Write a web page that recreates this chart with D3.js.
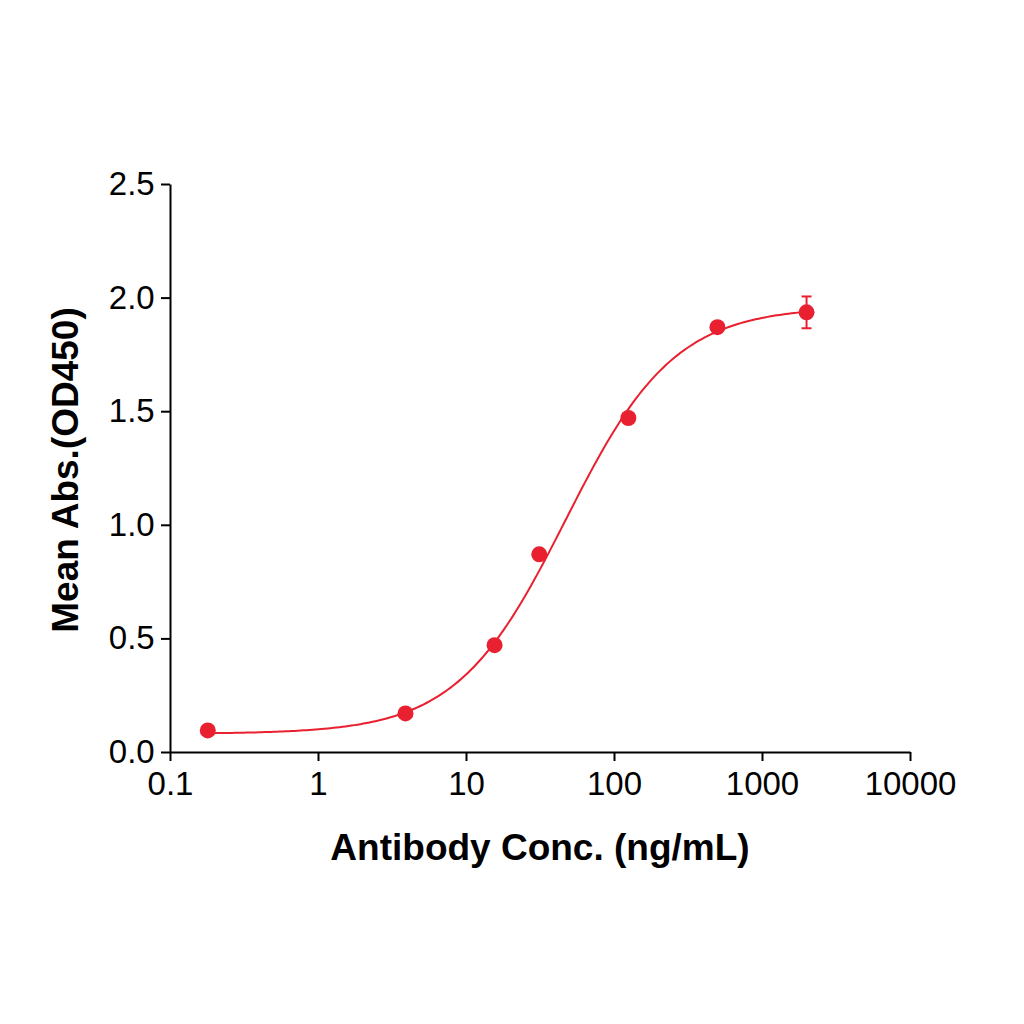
<!DOCTYPE html>
<html>
<head>
<script src="https://d3js.org/d3.v7.min.js"></script>
<style>body{margin:0;background:#fff}</style>
</head>
<body>
<svg id="chart" width="1024" height="1024"></svg>
<script>
var conc = [0.18, 3.9, 15.6, 31.25, 125, 500, 2000];
var absVals = [0.095, 0.17, 0.47, 0.87, 1.47, 1.87, 1.935];
var errVals = [0, 0, 0, 0, 0, 0, 0.07];
var xTicks = [0.1, 1, 10, 100, 1000, 10000];
var xTickLabels = ['0.1', '1', '10', '100', '1000', '10000'];
var yTicks = [0, 0.5, 1.0, 1.5, 2.0, 2.5];
// 4PL fit parameters: bottom, top, EC50, hill
var fit = {bottom: 0.08, top: 1.96, ec50: 47, hill: 1.18};

var red = '#e8202f';
var font = 'Liberation Sans, Arial, sans-serif';
var svg = d3.select('#chart');
var x = d3.scaleLog().domain([0.1, 10000]).range([170, 910]);
var y = d3.scaleLinear().domain([0, 2.5]).range([752, 184]);

svg.append('g').attr('transform', 'translate(0,752)')
    .call(d3.axisBottom(x).tickValues(xTicks).tickFormat((d, i) => xTickLabels[i]).tickSize(9).tickSizeOuter(0))
    .call(g => g.selectAll('text').attr('font-size', 33).attr('dy', '0.95em'));
svg.append('g').attr('transform', 'translate(170,0)')
    .call(d3.axisLeft(y).tickValues(yTicks).tickFormat(d3.format('.1f')).tickSize(9).tickSizeOuter(0))
    .call(g => g.selectAll('text').attr('font-size', 33).attr('dx', '-0.1em'));
svg.selectAll('.domain, .tick line').attr('stroke', '#000').attr('stroke-width', 2);
svg.selectAll('.tick text').attr('font-family', font).attr('fill', '#000');

svg.append('text').attr('x', 540).attr('y', 860).attr('text-anchor', 'middle')
    .attr('font-family', font).attr('font-weight', 'bold').attr('font-size', 37)
    .text('Antibody Conc. (ng/mL)');
svg.append('text').attr('transform', 'translate(78,470) rotate(-90)').attr('text-anchor', 'middle')
    .attr('font-family', font).attr('font-weight', 'bold').attr('font-size', 37)
    .text('Mean Abs.(OD450)');

var f = c => fit.bottom + (fit.top - fit.bottom) / (1 + Math.pow(fit.ec50 / c, fit.hill));
var curveX = d3.range(0, 201).map(i => Math.pow(10, Math.log10(conc[0]) + i / 200 * (Math.log10(conc[6]) - Math.log10(conc[0]))));
svg.append('path').datum(curveX)
    .attr('d', d3.line().x(c => x(c)).y(c => y(f(c))))
    .attr('fill', 'none').attr('stroke', red).attr('stroke-width', 2);

conc.forEach(function (c, i) {
    if (errVals[i] > 0) {
        var g = svg.append('g').attr('stroke', red).attr('stroke-width', 2);
        g.append('line').attr('x1', x(c)).attr('x2', x(c)).attr('y1', y(absVals[i] - errVals[i])).attr('y2', y(absVals[i] + errVals[i]));
        [absVals[i] - errVals[i], absVals[i] + errVals[i]].forEach(v =>
            g.append('line').attr('x1', x(c) - 5).attr('x2', x(c) + 5).attr('y1', y(v)).attr('y2', y(v)));
    }
});
svg.selectAll('circle.pt').data(conc).enter().append('circle')
    .attr('cx', d => x(d)).attr('cy', (d, i) => y(absVals[i])).attr('r', 8).attr('fill', red);
</script>
</body>
</html>
